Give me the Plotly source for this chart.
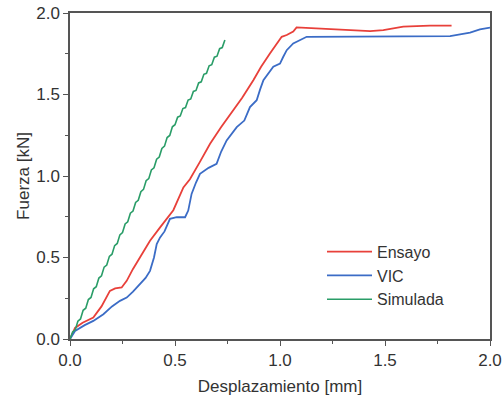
import plotly.graph_objects as go

# Ensayo (red)
ensayo_x = [0, 0.024, 0.06, 0.111, 0.15, 0.19, 0.215, 0.246, 0.27, 0.30, 0.333, 0.381, 0.429, 0.46,
            0.492, 0.54, 0.571, 0.62, 0.667, 0.72, 0.778, 0.82, 0.873, 0.91, 0.952, 0.985, 1.008,
            1.032, 1.063, 1.079, 1.175, 1.333, 1.429, 1.492, 1.587, 1.714, 1.817]
ensayo_y = [0, 0.068, 0.10, 0.131, 0.20, 0.295, 0.31, 0.316, 0.357, 0.43, 0.50, 0.603, 0.685, 0.74,
            0.79, 0.93, 0.98, 1.09, 1.198, 1.30, 1.403, 1.48, 1.588, 1.67, 1.752, 1.81, 1.854,
            1.865, 1.886, 1.912, 1.905, 1.892, 1.889, 1.895, 1.916, 1.922, 1.922]

# VIC (blue)
vic_x = [0, 0.024, 0.07, 0.111, 0.159, 0.20, 0.238, 0.27, 0.30, 0.333, 0.36, 0.381, 0.40, 0.413,
         0.429, 0.45, 0.476, 0.508, 0.548, 0.563, 0.579, 0.60, 0.619, 0.66, 0.698, 0.72, 0.746,
         0.794, 0.83, 0.857, 0.889, 0.905, 0.921, 0.968, 1.0, 1.015, 1.032, 1.063, 1.111, 1.127,
         1.81, 1.905, 1.952, 2.0]
vic_y = [0, 0.049, 0.085, 0.111, 0.152, 0.20, 0.234, 0.254, 0.29, 0.337, 0.375, 0.418, 0.50, 0.583,
         0.623, 0.66, 0.737, 0.747, 0.747, 0.788, 0.89, 0.96, 1.013, 1.05, 1.075, 1.15, 1.218,
         1.30, 1.34, 1.423, 1.465, 1.53, 1.588, 1.67, 1.69, 1.73, 1.772, 1.813, 1.845, 1.854,
         1.858, 1.879, 1.90, 1.91]

# Simulada (green)
sim_x = [0.0000, 0.0125, 0.0250, 0.0375, 0.0500, 0.0625, 0.0750, 0.0875, 0.1000, 0.1125,
         0.1250, 0.1375, 0.1500, 0.1625, 0.1750, 0.1875, 0.2000, 0.2125, 0.2250, 0.2375,
         0.2500, 0.2625, 0.2750, 0.2875, 0.3000, 0.3125, 0.3250, 0.3375, 0.3500, 0.3625,
         0.3750, 0.3875, 0.4000, 0.4125, 0.4250, 0.4375, 0.4500, 0.4625, 0.4750, 0.4875,
         0.5000, 0.5125, 0.5250, 0.5375, 0.5500, 0.5625, 0.5750, 0.5875, 0.6000, 0.6125,
         0.6250, 0.6375, 0.6500, 0.6625, 0.6750, 0.6875, 0.7000, 0.7125, 0.7250, 0.7375]
sim_y = [0.000, 0.043, 0.056, 0.109, 0.123, 0.176, 0.189, 0.242, 0.255, 0.308,
         0.321, 0.374, 0.388, 0.441, 0.454, 0.507, 0.520, 0.573, 0.586, 0.639,
         0.653, 0.706, 0.719, 0.772, 0.785, 0.838, 0.851, 0.904, 0.918, 0.971,
         0.984, 1.037, 1.050, 1.103, 1.116, 1.169, 1.183, 1.236, 1.249, 1.302,
         1.315, 1.361, 1.368, 1.414, 1.420, 1.466, 1.473, 1.519, 1.525, 1.571,
         1.578, 1.624, 1.630, 1.676, 1.683, 1.729, 1.735, 1.781, 1.788, 1.834]

x_ticks = [0.0, 0.5, 1.0, 1.5, 2.0]
y_ticks = [0.0, 0.5, 1.0, 1.5, 2.0]
tick_text = ["0.0", "0.5", "1.0", "1.5", "2.0"]

font_family = "Liberation Sans, Arial, sans-serif"
text_color = "#333333"

fig = go.Figure()
fig.add_trace(go.Scatter(x=ensayo_x, y=ensayo_y, mode="lines", name="Ensayo",
                         line=dict(color="#e8403a", width=1.8)))
fig.add_trace(go.Scatter(x=vic_x, y=vic_y, mode="lines", name="VIC",
                         line=dict(color="#3b6cc6", width=1.8)))
fig.add_trace(go.Scatter(x=sim_x, y=sim_y, mode="lines", name="Simulada",
                         line=dict(color="#2a9d68", width=1.6)))

axis_common = dict(
    showgrid=False, zeroline=False, automargin=False,
    showline=True, linecolor="#555555", linewidth=1.5, mirror=True,
    ticks="outside", ticklen=5, tickwidth=1.2, tickcolor="#555555",
    tickfont=dict(family=font_family, size=17, color=text_color),
    minor=dict(ticks="outside", ticklen=3, tickwidth=1, tickcolor="#555555", dtick=0.25),
)

fig.update_xaxes(range=[0, 2], tickvals=x_ticks, ticktext=tick_text,
                 title=dict(text="Desplazamiento [mm]", font=dict(family=font_family, size=17, color=text_color), standoff=11),
                 **axis_common)
fig.update_yaxes(range=[0, 2], tickvals=y_ticks, ticktext=tick_text,
                 title=dict(text="Fuerza [kN]", font=dict(family=font_family, size=17, color=text_color), standoff=2),
                 **axis_common)

fig.update_layout(
    width=504, height=396,
    margin=dict(l=70, r=14, t=13, b=57),
    paper_bgcolor="white", plot_bgcolor="white",
    showlegend=True,
    legend=dict(x=0.6, y=0.32, xanchor="left", yanchor="top", itemwidth=45,
                bgcolor="rgba(0,0,0,0)", font=dict(family=font_family, size=16, color=text_color),
                tracegroupgap=0),
)

fig.write_html("out.html", config={"displayModeBar": False},
               post_script="document.body.style.margin='0';")
